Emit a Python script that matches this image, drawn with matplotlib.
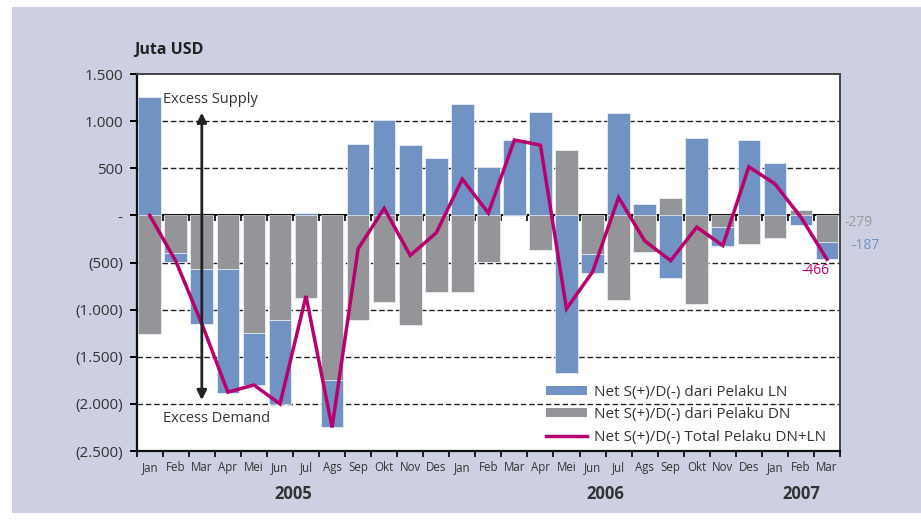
import numpy as np
import matplotlib
matplotlib.use("Agg")
from matplotlib import pyplot as plt
from matplotlib.patches import Rectangle, Patch
from matplotlib.lines import Line2D

plt.rcParams['font.family'] = ['Open Sans', 'DejaVu Sans']

months = ['Jan', 'Feb', 'Mar', 'Apr', 'Mei', 'Jun', 'Jul', 'Ags', 'Sep', 'Okt', 'Nov', 'Des',
          'Jan', 'Feb', 'Mar', 'Apr', 'Mei', 'Jun', 'Jul', 'Ags', 'Sep', 'Okt', 'Nov', 'Des',
          'Jan', 'Feb', 'Mar']
years = ['2005', '2006', '2007']
year_start = [0, 12, 24]
year_len = [12, 12, 3]

# Net supply(+)/demand(-), juta USD
ln = [1260, -90, -580, -1310, -550, -890, 30, -500, 760, 1010, 745, 610,
      1180, 510, 800, 1100, -1670, -200, 1090, 120, -660, 820, -195, 800,
      560, -105, -187]
dn = [-1260, -400, -570, -570, -1250, -1110, -880, -1750, -1110, -920, -1165, -810,
      -810, -490, 0, -370, 690, -410, -900, -390, 180, -940, -125, -300,
      -235, 60, -279]
total = [0, -485, -1150, -1875, -1800, -2000, -855, -2250, -355, 75, -425, -185,
         385, 25, 800, 745, -990, -600, 190, -270, -480, -125, -320, 515,
         335, -20, -466]

yticks = [1500, 1000, 500, 0, -500, -1000, -1500, -2000, -2500]
ytick_labels = ['1.500', '1.000', '500', '-', '(500)', '(1.000)', '(1.500)', '(2.000)', '(2.500)']

c_ln = '#7193c3'
c_dn = '#939598'
c_tot = '#b8006e'
txt = '#333333'

fig = plt.figure(figsize=(9.21, 5.22), dpi=100, facecolor='white')
fig.patches.append(Rectangle((12 / 921, 0.017), 1, 1 - 7 / 522 - 0.017,
                             transform=fig.transFigure, facecolor='#cdcfe2',
                             edgecolor='none', zorder=-10))
ax = fig.add_axes([136.7 / 921, 1 - 451 / 522, (840 - 136.7) / 921, (451 - 74) / 522])
ax.set_facecolor('white')

x = np.arange(len(months))
ln_a = np.array(ln, dtype=float)
dn_a = np.array(dn, dtype=float)
ln_bottom = np.where(np.sign(ln_a) == np.sign(dn_a), dn_a, 0)

ax.bar(x, dn_a, width=0.87, color=c_dn, edgecolor='white', linewidth=0.4, zorder=2)
ax.bar(x, ln_a, bottom=ln_bottom, width=0.87, color=c_ln, edgecolor='white', linewidth=0.4, zorder=2)
ax.plot(x, total, color=c_tot, linewidth=2.5, zorder=4, solid_joinstyle='miter')

for v in yticks:
    if v not in (0, max(yticks), min(yticks)):
        ax.axhline(v, color='#222222', linestyle=(0, (4, 2)), linewidth=1, zorder=1)

ax.set_xlim(-0.5, len(months) - 0.5)
ax.set_ylim(min(yticks), max(yticks))
ax.set_yticks(yticks)
ax.set_yticklabels(ytick_labels, color=txt, fontsize=11)
ax.tick_params(axis='y', direction='out', length=5, width=1.4, pad=5)

ax.set_xticks(np.arange(len(months) + 1) - 0.5)
ax.set_xticklabels([])
ax.tick_params(axis='x', which='major', direction='out', length=4, width=1.2)
ax.set_xticks(x, minor=True)
ax.set_xticklabels(months, minor=True, fontsize=8.3, color=txt)
ax.tick_params(axis='x', which='minor', length=0, pad=7)

for s in ['left', 'bottom']:
    ax.spines[s].set_linewidth(1.6)
    ax.spines[s].set_color('#111111')
for s in ['top', 'right']:
    ax.spines[s].set_linewidth(1.4)
    ax.spines[s].set_color('#444444')

# zero line with its own ticks
sec = ax.secondary_xaxis(0, transform=ax.transData)
sec.set_xticks(np.arange(len(months) + 1) - 0.5)
sec.set_xticklabels([])
sec.tick_params(direction='out', length=4, width=1.2)
sec.spines['bottom'].set_linewidth(1.5)
sec.spines['bottom'].set_color('#111111')

# year labels
for yr, st, n in zip(years, year_start, year_len):
    ax.text(st + (n - 1) / 2, -0.113, yr, transform=ax.get_xaxis_transform(),
            ha='center', va='center', fontsize=12, fontweight='bold', color=txt)

fig.text(134 / 921, 1 - 50 / 522, 'Juta USD', ha='left', va='center',
         fontsize=11.5, fontweight='bold', color='#222222')

# excess supply / demand arrow
ax.annotate('', xy=(2, 1090), xytext=(2, -1960),
            arrowprops=dict(arrowstyle='<|-|>', color='#222222', lw=2,
                            mutation_scale=14, shrinkA=0, shrinkB=0), zorder=5)
ax.text(0.5, 1225, 'Excess Supply', fontsize=10.5, color=txt, ha='left', va='center', zorder=5)
ax.text(0.5, -2150, 'Excess Demand', fontsize=10.5, color=txt, ha='left', va='center', zorder=5)

# end labels
ax.text(1.006, dn[-1] + 200, '%d' % dn[-1], transform=ax.get_yaxis_transform(),
        fontsize=10, color='#9a9a9a', ha='left', va='center', clip_on=False)
ax.text(1.017, ln[-1] - 130, '%d' % ln[-1], transform=ax.get_yaxis_transform(),
        fontsize=10, color=c_ln, ha='left', va='center', clip_on=False)
ax.text(len(months) - 1.45, total[-1] - 120, '%d' % total[-1], fontsize=10,
        color=c_tot, ha='center', va='center', zorder=5)

handles = [Patch(facecolor=c_ln, edgecolor='none'),
           Patch(facecolor=c_dn, edgecolor='none'),
           Line2D([0], [0], color=c_tot, linewidth=2.5)]
labels = ['Net S(+)/D(-) dari Pelaku LN', 'Net S(+)/D(-) dari Pelaku DN',
          'Net S(+)/D(-) Total Pelaku DN+LN']
leg = ax.legend(handles, labels, loc='lower right', bbox_to_anchor=(0.995, -0.012),
                frameon=False, fontsize=11, handlelength=2.7, handleheight=0.55,
                handletextpad=0.45, labelspacing=0.5, borderpad=0.2)
for t in leg.get_texts():
    t.set_color(txt)

fig.savefig('out.png', dpi=100, facecolor=fig.get_facecolor())
